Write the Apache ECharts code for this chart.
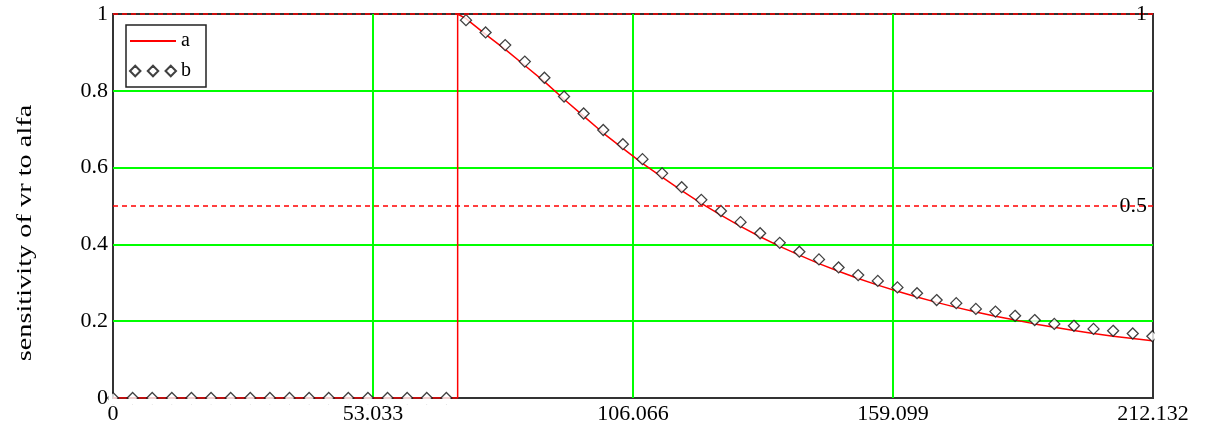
<!DOCTYPE html>
<html>
<head>
<meta charset="utf-8">
<title>sensitivity of vr to alfa</title>
<script src="https://cdn.jsdelivr.net/npm/echarts/dist/echarts.min.js"></script>
<style>
  html, body { margin: 0; padding: 0; background: #fff; }
  #chart { width: 1210px; height: 430px; }
</style>
</head>
<body>
<div id="chart"></div>
<script>
// Series a: step at the threshold, then the computed sensitivity curve
const aX = [0, 70.3, 70.3, 72, 76, 80, 84, 88, 92, 96, 100, 104, 108, 112, 116, 120, 124, 128, 132,
  136, 140, 144, 148, 152, 156, 160, 164, 168, 172, 176, 180, 184, 188, 192, 196, 200, 204, 208, 212, 212.132];
const aY = [0, 0, 1, 0.988, 0.947, 0.908, 0.866, 0.824, 0.778, 0.734, 0.690, 0.650, 0.611, 0.575, 0.540,
  0.507, 0.476, 0.447, 0.420, 0.395, 0.372, 0.350, 0.330, 0.311, 0.294, 0.278, 0.263, 0.249, 0.236,
  0.224, 0.213, 0.203, 0.193, 0.184, 0.176, 0.168, 0.161, 0.155, 0.149, 0.149];

// Series b: sampled points
const bX = [0, 4, 8, 12, 16, 20, 24, 28, 32, 36, 40, 44, 48, 52, 56, 60, 64, 68,
  72, 76, 80, 84, 88, 92, 96, 100, 104, 108, 112, 116, 120, 124, 128, 132, 136, 140,
  144, 148, 152, 156, 160, 164, 168, 172, 176, 180, 184, 188, 192, 196, 200, 204, 208, 212];
const bY = [0, 0, 0, 0, 0, 0, 0, 0, 0, 0, 0, 0, 0, 0, 0, 0, 0, 0,
  0.984, 0.952, 0.919, 0.876, 0.834, 0.785, 0.741, 0.698, 0.661, 0.622, 0.585, 0.549,
  0.516, 0.487, 0.458, 0.429, 0.404, 0.381, 0.361, 0.340, 0.320, 0.305, 0.288, 0.273,
  0.255, 0.247, 0.232, 0.225, 0.214, 0.203, 0.193, 0.188, 0.180, 0.175, 0.168, 0.161];

// Axis ranges and tick spacing
const xMin = 0, xMax = 212.132, xStep = 53.033;
const yMin = 0, yMax = 1, yStep = 0.2;

// Horizontal reference levels with their labels
const refLevels = [1, 0.5];
const refLabels = ['1', '0.5'];

const yTitle = 'sensitivity of vr to alfa';

const FONT = '"Liberation Serif", "DejaVu Serif", serif';

const chart = echarts.init(document.getElementById('chart'), null, { renderer: 'canvas' });

const zip = (xs, ys) => xs.map((x, i) => [x, ys[i]]);

const option = {
  animation: false,
  backgroundColor: '#fff',
  grid: {
    left: 113, right: 57, top: 14, bottom: 32,
    show: true, borderColor: '#333', borderWidth: 2, backgroundColor: 'transparent'
  },
  legend: {
    left: 126, top: 25,
    orient: 'vertical',
    backgroundColor: '#fff',
    borderColor: '#222', borderWidth: 1.5, borderRadius: 0,
    padding: [6, 15, 6, 3],
    itemGap: 10,
    itemWidth: 46, itemHeight: 14,
    textStyle: { fontFamily: FONT, fontSize: 20, color: '#000', lineHeight: 20 },
    data: [
      { name: 'a', itemStyle: { opacity: 0 }, lineStyle: { width: 2 } },
      { name: 'b', icon: 'path://M0,5L5,0L10,5L5,10Z M17,5L22,0L27,5L22,10Z M34,5L39,0L44,5L39,10Z' }
    ]
  },
  xAxis: {
    type: 'value', min: xMin, max: xMax, interval: xStep,
    axisLine: { show: false }, axisTick: { show: false },
    splitLine: { show: true, showMinLine: false, showMaxLine: false, lineStyle: { color: '#00ff00', width: 2 } },
    axisLabel: {
      fontFamily: FONT, fontSize: 22, color: '#000', margin: 5,
      formatter: v => (Math.abs(v) < 1e-9 ? '0' : v.toFixed(3))
    }
  },
  yAxis: {
    type: 'value', min: yMin, max: yMax, interval: yStep,
    axisLine: { show: false }, axisTick: { show: false },
    splitLine: { show: true, showMinLine: false, showMaxLine: false, lineStyle: { color: '#00ff00', width: 2 } },
    axisLabel: { fontFamily: FONT, fontSize: 22, color: '#000', margin: 5 }
  },
  series: [
    {
      name: 'a', type: 'line', data: zip(aX, aY),
      symbol: 'none', smooth: false, clip: true,
      lineStyle: { color: '#ff0000', width: 1.5 },
      itemStyle: { color: '#ff0000' },
      z: 3,
      markLine: {
        silent: true, symbol: 'none',
        lineStyle: { color: '#ff0000', type: [5, 4], width: 1.5 },
        label: {
          show: true, position: 'end', align: 'right', distance: 0, offset: [-6, 0],
          fontFamily: FONT, fontSize: 22, color: '#000',
          formatter: p => refLabels[refLevels.indexOf(p.value)]
        },
        data: refLevels.map(v => ({ yAxis: v }))
      }
    },
    {
      name: 'b', type: 'scatter', data: zip(bX, bY),
      symbol: 'diamond', symbolSize: 11,
      itemStyle: { color: '#fff', borderColor: '#111', borderWidth: 1.3 },
      z: 4
    }
  ],
  graphic: [
    // keep point markers inside the plot frame
    { type: 'rect', z: 100, silent: true, shape: { x: 111, y: 399, width: 1050, height: 5.4 }, style: { fill: '#fff' } },
    { type: 'rect', z: 100, silent: true, shape: { x: 108.5, y: 390, width: 3.5, height: 14 }, style: { fill: '#fff' } },
    { type: 'rect', z: 100, silent: true, shape: { x: 1154.5, y: 322, width: 12, height: 24 }, style: { fill: '#fff' } },
    {
      type: 'text', z: 100, silent: true,
      x: 25, y: 233, rotation: Math.PI / 2, scaleX: 1.35,
      style: {
        text: yTitle, font: '21px ' + FONT, fill: '#000',
        x: 0, y: 0, align: 'center', verticalAlign: 'middle',
        textAlign: 'center', textVerticalAlign: 'middle'
      }
    }
  ]
};

chart.setOption(option);
</script>
</body>
</html>
